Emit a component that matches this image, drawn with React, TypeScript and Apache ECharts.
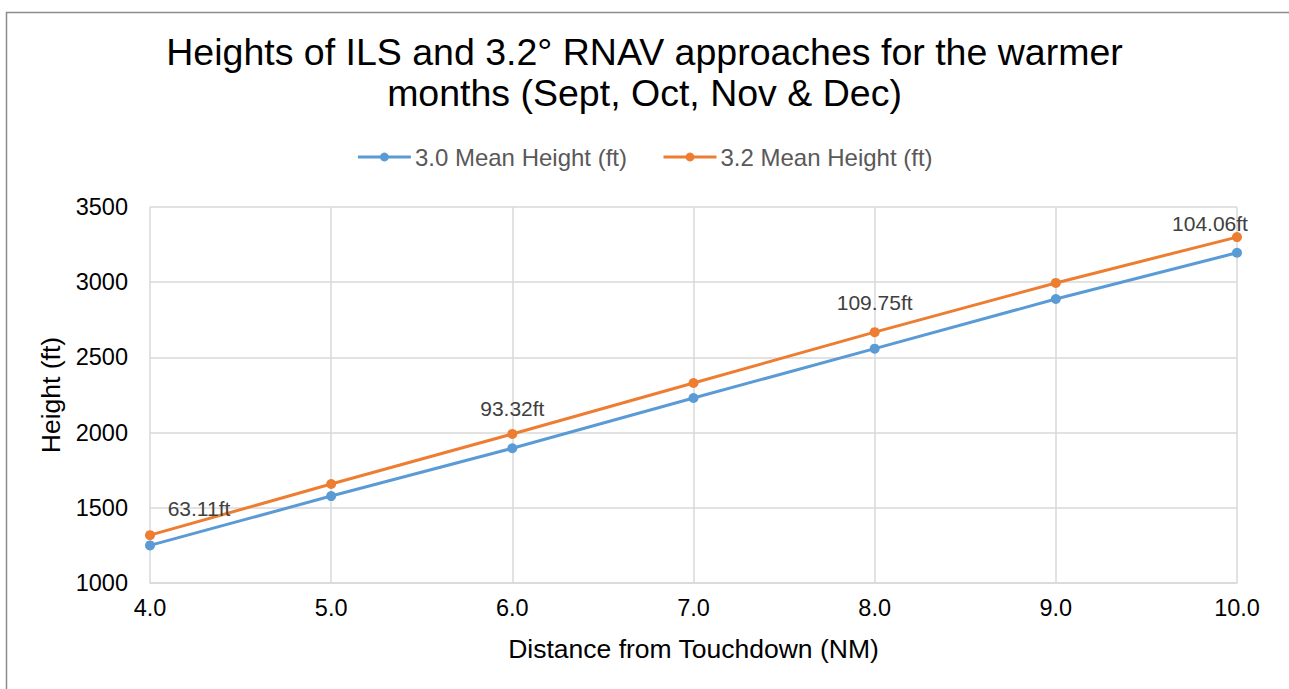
import React, { useEffect, useRef } from "react";
import * as echarts from "echarts";

const distances = [4.0, 5.0, 6.0, 7.0, 8.0, 9.0, 10.0];
const mean30 = [1250, 1578, 1896, 2230, 2558, 2888, 3196];
const mean32 = [1318, 1658, 1991, 2330, 2668, 2995, 3300];
const diffLabels = ["63.11ft", "", "93.32ft", "", "109.75ft", "", "104.06ft"];
const seriesNames = ["3.0 Mean Height (ft)", "3.2 Mean Height (ft)"];
const titleText = "Heights of ILS and 3.2° RNAV approaches for the warmer\nmonths (Sept, Oct, Nov & Dec)";
const xAxisName = "Distance from Touchdown (NM)";
const yAxisName = "Height (ft)";

const FONT = "'Liberation Sans', Arial, sans-serif";
const BLUE = "#5B9BD5";
const ORANGE = "#ED7D31";

const labelOffsets: Record<number, [number, number]> = {
  0: [49, -6],
  2: [0, -5],
  4: [0, -9],
  6: [-27, 7],
};

export default function App() {
  const ref = useRef<HTMLDivElement>(null);
  useEffect(() => {
    if (!ref.current) return;
    const chart = echarts.init(ref.current, undefined, { renderer: "svg" });
    const d30 = distances.map((d, i) => [d, mean30[i]]);
    const d32 = distances.map((d, i) => {
      const txt = diffLabels[i];
      const item: any = { value: [d, mean32[i]] };
      if (txt) {
        item.label = {
          show: true,
          position: "top",
          distance: 5,
          offset: labelOffsets[i] || [0, 0],
          formatter: txt,
          color: "#404040",
          fontSize: 21,
          fontFamily: FONT,
        };
      }
      return item;
    });
    chart.setOption({
      animation: false,
      backgroundColor: "#ffffff",
      title: {
        text: titleText,
        left: "center",
        top: 26,
        padding: 5,
        textStyle: {
          fontSize: 37.5,
          lineHeight: 41,
          fontWeight: "normal",
          color: "#000",
          fontFamily: FONT,
        },
      },
      legend: {
        top: 145,
        left: "center",
        padding: 0,
        itemWidth: 53,
        itemHeight: 11,
        itemGap: 35,
        lineStyle: { width: 3 },
        textStyle: { fontSize: 24, color: "#595959", fontFamily: FONT, padding: [0, 0, 0, -1] },
        data: seriesNames,
      },
      grid: { left: 150, right: 52, top: 207, bottom: 106 },
      xAxis: {
        type: "value",
        min: 4,
        max: 10,
        interval: 1,
        name: xAxisName,
        nameLocation: "middle",
        nameGap: 52,
        nameTextStyle: { fontSize: 26.5, color: "#000", fontFamily: FONT },
        axisLine: { show: true, lineStyle: { color: "#d9d9d9", width: 1.5 } },
        axisTick: { show: false },
        axisLabel: {
          fontSize: 23.5,
          color: "#000",
          fontFamily: FONT,
          margin: 13,
          formatter: (v: number) => v.toFixed(1),
        },
        splitLine: { show: true, lineStyle: { color: "#d9d9d9", width: 1.5 } },
      },
      yAxis: {
        type: "value",
        min: 1000,
        max: 3500,
        interval: 500,
        name: yAxisName,
        nameLocation: "middle",
        nameGap: 78,
        nameRotate: 90,
        nameTextStyle: { fontSize: 26.5, color: "#000", fontFamily: FONT },
        axisLine: { show: false },
        axisTick: { show: false },
        axisLabel: {
          fontSize: 23.5,
          color: "#000",
          fontFamily: FONT,
          margin: 22,
          formatter: (v: number) => String(v),
        },
        splitLine: { show: true, lineStyle: { color: "#d9d9d9", width: 1.5 } },
      },
      series: [
        {
          name: seriesNames[0],
          type: "line",
          data: d30,
          symbol: "circle",
          symbolSize: 10,
          lineStyle: { color: BLUE, width: 3 },
          itemStyle: { color: BLUE },
        },
        {
          name: seriesNames[1],
          type: "line",
          data: d32,
          symbol: "circle",
          symbolSize: 10,
          lineStyle: { color: ORANGE, width: 3 },
          itemStyle: { color: ORANGE },
        },
      ],
      graphic: [
        {
          type: "rect",
          left: 4,
          top: 10,
          shape: { x: 0, y: 0, width: 1284, height: 700 },
          style: { fill: "none", stroke: "#8c8c8c", lineWidth: 1.5 },
          silent: true,
          z: -1,
        },
      ],
    });
    return () => chart.dispose();
  }, []);
  return (
    <div
      ref={ref}
      style={{ position: "fixed", left: 0, top: 0, width: 1289, height: 689 }}
    />
  );
}
